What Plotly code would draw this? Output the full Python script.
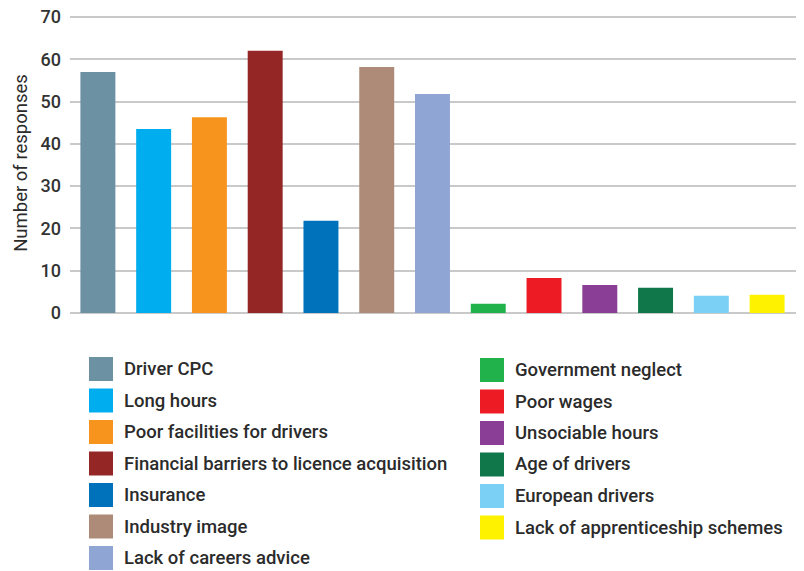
import plotly.graph_objects as go

categories = [
    "Driver CPC", "Long hours", "Poor facilities for drivers",
    "Financial barriers to licence acquisition", "Insurance", "Industry image",
    "Lack of careers advice", "Government neglect", "Poor wages",
    "Unsociable hours", "Age of drivers", "European drivers",
    "Lack of apprenticeship schemes",
]
values = [57.0, 43.5, 46.3, 62.0, 21.8, 58.2, 51.8, 2.2, 8.3, 6.6, 6.0, 4.1, 4.3]
colors = [
    "#6b91a3", "#00aeef", "#f7941d", "#942626", "#0072bc", "#ae8b78",
    "#8fa6d4", "#22b24c", "#ed1c24", "#8b3e96", "#0f774a", "#7bd1f5", "#fff200",
]
y_ticks = [0, 10, 20, 30, 40, 50, 60, 70]
y_title = "Number of responses"

OFF = 8  # page body margin
W, H = 796, 563
L, R, T, B = 62, 4, 5, 258
Y_TOP = 70.95
pw, ph = W - L - R, H - T - B

def px_to_paper_x(px):
    return (px - OFF - L) / pw

def px_to_paper_y(py):
    return (H - B - (py - OFF)) / ph

fig = go.Figure()
fig.add_trace(go.Bar(
    x=list(range(len(categories))), y=values,
    marker=dict(color=colors, line=dict(width=0)),
    hovertext=categories, hoverinfo="text+y", showlegend=False,
))

font_family = "Roboto, Arial, sans-serif"
text_color = "#2b2b2b"

shapes = []
annotations = []
left_n = 7
row_step = 31.5
for i, (cat, col) in enumerate(zip(categories, colors)):
    if i < left_n:
        sx0 = 89
        cy = 369 + row_step * i
    else:
        sx0 = 480
        cy = 370 + row_step * (i - left_n)
    shapes.append(dict(
        type="rect", xref="paper", yref="paper",
        x0=px_to_paper_x(sx0), x1=px_to_paper_x(sx0 + 24),
        y0=px_to_paper_y(cy + 12), y1=px_to_paper_y(cy - 12),
        fillcolor=col, line=dict(width=0), layer="above",
    ))
    annotations.append(dict(
        xref="paper", yref="paper", x=px_to_paper_x(sx0 + 33), y=px_to_paper_y(cy),
        xanchor="left", yanchor="middle", showarrow=False, text=cat,
        font=dict(family=font_family, size=18.5, color=text_color, weight=500),
    ))

fig.update_layout(
    width=W, height=H,
    margin=dict(l=L, r=R, t=T, b=B, pad=0, autoexpand=False),
    paper_bgcolor="white", plot_bgcolor="white",
    bargap=0.373,
    shapes=shapes, annotations=annotations,
    xaxis=dict(range=[-0.5, 12.59], showticklabels=False, showgrid=False,
               zeroline=False, showline=False, ticks="", automargin=False),
    yaxis=dict(range=[0, Y_TOP], tickvals=y_ticks, showgrid=True,
               gridcolor="#c9c9c9", gridwidth=2, zeroline=True,
               zerolinecolor="#c9c9c9", zerolinewidth=2, automargin=False,
               ticks="", ticklabelstandoff=8, ticklabeloverflow="allow",
               tickfont=dict(family=font_family, size=18, color="#333333", weight=500),
               title=dict(text=y_title, standoff=8,
                          font=dict(family=font_family, size=18.5, color=text_color))),
    font=dict(family=font_family),
)

fig.write_html("out.html")
